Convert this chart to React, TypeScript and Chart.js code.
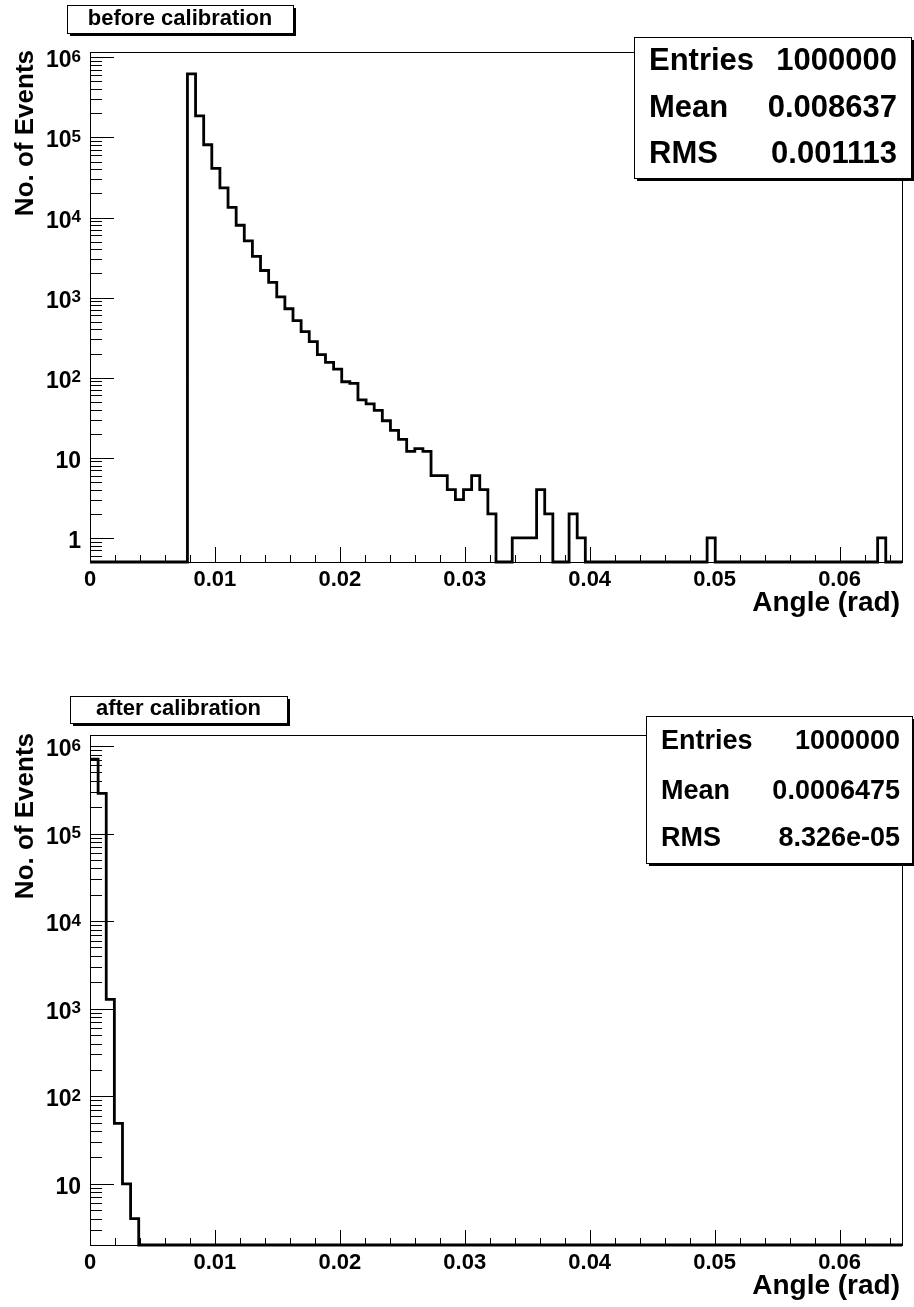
import React, { useEffect, useRef } from 'react';
import { Chart, registerables } from 'chart.js';

Chart.register(...registerables);

// ---------------- data ----------------
const N_BINS = 100;
const X_MIN = 0;
const X_MAX = 0.065;

// counts per bin, "before calibration"
const BEFORE_COUNTS = [
  0, 0, 0, 0, 0, 0, 0, 0, 0, 0,
  0, 0, 620000, 186000, 81000, 41000, 23400, 13400, 8000, 5100,
  3280, 2180, 1550, 1020, 726, 516, 376, 282, 194, 155,
  128, 89, 85, 53, 47, 39, 29, 22, 17, 12,
  13, 12, 6, 6, 4, 3, 4, 6, 4, 2,
  0, 0, 1, 1, 1, 4, 2, 0, 0, 2,
  1, 0, 0, 0, 0, 0, 0, 0, 0, 0,
  0, 0, 0, 0, 0, 0, 1, 0, 0, 0,
  0, 0, 0, 0, 0, 0, 0, 0, 0, 0,
  0, 0, 0, 0, 0, 0, 0, 1, 0, 0,
];

// counts per bin, "after calibration"
const AFTER_COUNTS = [
  710000, 288000, 1280, 49, 10, 4, 0, 0, 0, 0,
  0, 0, 0, 0, 0, 0, 0, 0, 0, 0,
  0, 0, 0, 0, 0, 0, 0, 0, 0, 0,
  0, 0, 0, 0, 0, 0, 0, 0, 0, 0,
  0, 0, 0, 0, 0, 0, 0, 0, 0, 0,
  0, 0, 0, 0, 0, 0, 0, 0, 0, 0,
  0, 0, 0, 0, 0, 0, 0, 0, 0, 0,
  0, 0, 0, 0, 0, 0, 0, 0, 0, 0,
  0, 0, 0, 0, 0, 0, 0, 0, 0, 0,
  0, 0, 0, 0, 0, 0, 0, 0, 0, 0,
];

const X_TICK_VALUES = [0, 0.01, 0.02, 0.03, 0.04, 0.05, 0.06];
const X_TICK_LABELS = ['0', '0.01', '0.02', '0.03', '0.04', '0.05', '0.06'];
const X_MINOR_STEP = 0.002;

const Y_LABEL_VALUES = [1, 10, 100, 1000, 10000, 100000, 1000000];
const Y_LABEL_BASES = ['1', '10', '10', '10', '10', '10', '10'];
const Y_LABEL_EXPS = ['', '', '2', '3', '4', '5', '6'];

const STAT_NAMES = ['Entries', 'Mean', 'RMS'];
const BEFORE_STATS = ['1000000', '0.008637', '0.001113'];
const AFTER_STATS = ['1000000', '0.0006475', '8.326e-05'];

const X_TITLE = 'Angle (rad)';
const Y_TITLE = 'No. of Events';
const BEFORE_TITLE = 'before calibration';
const AFTER_TITLE = 'after calibration';

// ---------------- layout ----------------
const FONT = '"Liberation Sans", Arial, Helvetica, sans-serif';
const BIN_W = (X_MAX - X_MIN) / N_BINS;

type PanelCfg = {
  top: number;
  height: number;
  padding: { left: number; top: number; right: number; bottom: number };
  yMin: number;
  yMax: number;
  counts: number[];
  title: string;
  titleBox: { x: number; y: number; w: number; h: number; baseline: number };
  stats: string[];
  statsBox: { x: number; y: number; w: number; h: number };
  statsFont: number;
  statsRows: number[];
  statsLabelX: number;
  statsValueX: number;
};

const PANELS: PanelCfg[] = [
  {
    top: 0,
    height: 650,
    padding: { left: 90, top: 52, right: 12, bottom: 88 },
    yMin: 0.5,
    yMax: 1.165e6,
    counts: BEFORE_COUNTS,
    title: BEFORE_TITLE,
    titleBox: { x: 67, y: 5, w: 226, h: 28, baseline: 25 },
    stats: BEFORE_STATS,
    statsBox: { x: 634, y: 37, w: 277, h: 141 },
    statsFont: 31,
    statsRows: [70, 116.5, 163],
    statsLabelX: 649,
    statsValueX: 897,
  },
  {
    top: 650,
    height: 657,
    padding: { left: 90, top: 85, right: 12, bottom: 62 },
    yMin: 2,
    yMax: 1.336e6,
    counts: AFTER_COUNTS,
    title: AFTER_TITLE,
    titleBox: { x: 70, y: 46, w: 217, h: 27, baseline: 65 },
    stats: AFTER_STATS,
    statsBox: { x: 646, y: 66, w: 266, h: 147 },
    statsFont: 27,
    statsRows: [98.5, 148.5, 196],
    statsLabelX: 661,
    statsValueX: 900,
  },
];

function shadowBox(ctx: CanvasRenderingContext2D, x: number, y: number, w: number, h: number) {
  ctx.fillStyle = '#000';
  ctx.fillRect(x + 3, y + 3, w, h);
  ctx.fillStyle = '#fff';
  ctx.fillRect(x, y, w, h);
  ctx.strokeStyle = '#000';
  ctx.lineWidth = 1;
  ctx.strokeRect(x + 0.5, y + 0.5, w, h);
}

function rootPlugin(cfg: PanelCfg) {
  return {
    id: 'rootDeco',
    afterDraw(chart: any) {
      const ctx: CanvasRenderingContext2D = chart.ctx;
      const a = chart.chartArea;
      const xs = chart.scales.x;
      const ys = chart.scales.y;
      ctx.save();
      ctx.strokeStyle = '#000';
      ctx.fillStyle = '#000';
      ctx.lineWidth = 1;

      // frame
      ctx.strokeRect(Math.round(a.left) + 0.5, Math.round(a.top) + 0.5,
        Math.round(a.right - a.left), Math.round(a.bottom - a.top));

      // x ticks (inside, upward)
      const nMinor = Math.floor((X_MAX - X_MIN) / X_MINOR_STEP + 1e-6);
      for (let k = 0; k <= nMinor; k++) {
        const v = X_MIN + k * X_MINOR_STEP;
        const px = Math.round(xs.getPixelForValue(v)) + 0.5;
        const major = k % 5 === 0;
        ctx.beginPath();
        ctx.moveTo(px, a.bottom);
        ctx.lineTo(px, a.bottom - (major ? 15 : 7));
        ctx.stroke();
      }

      // y ticks (inside, rightward)
      for (let e = -1; e <= 6; e++) {
        for (let m = 1; m <= 9; m++) {
          const v = m * Math.pow(10, e);
          if (v < cfg.yMin * 0.999 || v > cfg.yMax) continue;
          const py = Math.round(ys.getPixelForValue(v)) + 0.5;
          ctx.beginPath();
          ctx.moveTo(a.left, py);
          ctx.lineTo(a.left + (m === 1 ? 24 : 12), py);
          ctx.stroke();
        }
      }

      // x tick labels
      ctx.font = `bold 22px ${FONT}`;
      ctx.textAlign = 'center';
      ctx.textBaseline = 'alphabetic';
      X_TICK_VALUES.forEach((v, i) => {
        ctx.fillText(X_TICK_LABELS[i], xs.getPixelForValue(v), a.bottom + 24);
      });

      // y tick labels with superscripts
      const rightX = a.left - 9;
      Y_LABEL_VALUES.forEach((v, i) => {
        if (v < cfg.yMin || v > cfg.yMax) return;
        const py = ys.getPixelForValue(v);
        const base = Y_LABEL_BASES[i];
        const exp = Y_LABEL_EXPS[i];
        ctx.textAlign = 'left';
        ctx.font = `bold 17px ${FONT}`;
        const ew = exp ? ctx.measureText(exp).width : 0;
        ctx.font = `bold 23px ${FONT}`;
        const bw = ctx.measureText(base).width;
        const x0 = rightX - ew - bw;
        ctx.fillText(base, x0, py + 10);
        if (exp) {
          ctx.font = `bold 17px ${FONT}`;
          ctx.fillText(exp, x0 + bw, py + 4.5);
        }
      });

      // axis titles
      ctx.font = `bold 28px ${FONT}`;
      ctx.textAlign = 'right';
      ctx.fillText(X_TITLE, a.right - 2, a.bottom + 49);

      ctx.save();
      ctx.translate(33, a.top - 2);
      ctx.rotate(-Math.PI / 2);
      ctx.font = `bold 26px ${FONT}`;
      ctx.textAlign = 'right';
      ctx.fillText(Y_TITLE, 0, 0);
      ctx.restore();

      // title box
      const tb = cfg.titleBox;
      shadowBox(ctx, tb.x, tb.y, tb.w, tb.h);
      ctx.fillStyle = '#000';
      ctx.font = `bold 22px ${FONT}`;
      ctx.textAlign = 'center';
      ctx.fillText(cfg.title, tb.x + tb.w / 2, tb.baseline);

      // stats box
      const sb = cfg.statsBox;
      shadowBox(ctx, sb.x, sb.y, sb.w, sb.h);
      ctx.fillStyle = '#000';
      ctx.font = `bold ${cfg.statsFont}px ${FONT}`;
      STAT_NAMES.forEach((name, i) => {
        ctx.textAlign = 'left';
        ctx.fillText(name, cfg.statsLabelX, cfg.statsRows[i]);
        ctx.textAlign = 'right';
        ctx.fillText(cfg.stats[i], cfg.statsValueX, cfg.statsRows[i]);
      });

      ctx.restore();
    },
  };
}

function Panel({ cfg }: { cfg: PanelCfg }) {
  const ref = useRef<HTMLCanvasElement>(null);
  useEffect(() => {
    if (!ref.current) return;
    const pts: { x: number; y: number }[] = [];
    for (let i = 0; i < N_BINS; i++) {
      pts.push({ x: X_MIN + i * BIN_W, y: Math.max(cfg.counts[i], cfg.yMin) });
    }
    pts.push({ x: X_MAX, y: Math.max(cfg.counts[N_BINS - 1], cfg.yMin) });

    const chart = new Chart(ref.current, {
      type: 'line',
      data: {
        datasets: [
          {
            data: pts,
            stepped: 'before',
            borderColor: '#000',
            borderWidth: 2.8,
            borderJoinStyle: 'miter',
            borderCapStyle: 'butt',
            pointRadius: 0,
            fill: false,
            tension: 0,
            clip: 3,
          } as any,
        ],
      },
      options: {
        animation: false,
        responsive: false,
        events: [],
        layout: { padding: cfg.padding },
        plugins: { legend: { display: false }, tooltip: { enabled: false } },
        scales: {
          x: { type: 'linear', min: X_MIN, max: X_MAX, display: false },
          y: { type: 'logarithmic', min: cfg.yMin, max: cfg.yMax, display: false },
        },
      },
      plugins: [rootPlugin(cfg)],
    });
    return () => chart.destroy();
  }, [cfg]);
  return (
    <canvas
      ref={ref}
      width={914}
      height={cfg.height}
      style={{ position: 'absolute', left: 0, top: cfg.top, width: 914, height: cfg.height, display: 'block' }}
    />
  );
}

export default function App() {
  return (
    <div style={{ position: 'absolute', left: 0, top: 0, width: 914, height: 1307, background: '#fff', overflow: 'hidden' }}>
      {PANELS.map((p, i) => (
        <Panel key={i} cfg={p} />
      ))}
    </div>
  );
}
